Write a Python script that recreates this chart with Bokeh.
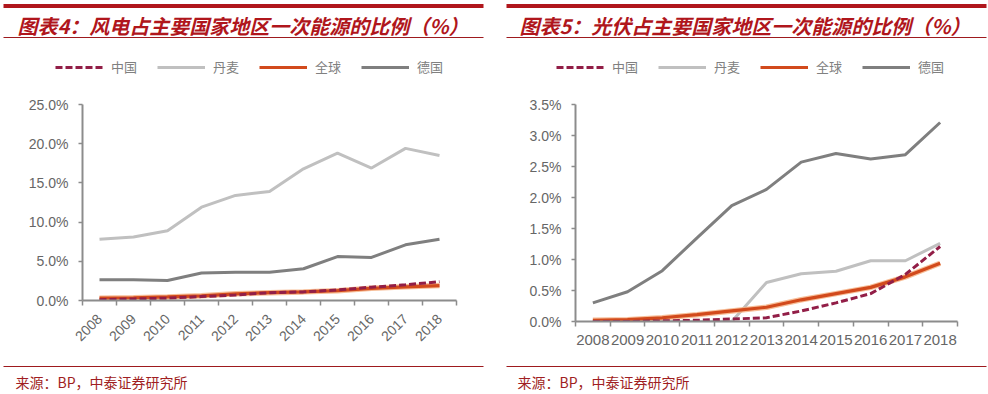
import math
from bokeh.plotting import figure
from bokeh.layouts import row, column
from bokeh.models import (Range1d, FixedTicker, PrintfTickFormatter, Legend, LegendItem)
from bokeh.core.properties import value
from bokeh.embed import file_html
from bokeh.resources import INLINE

# ---------------- data ----------------
years = [2008, 2009, 2010, 2011, 2012, 2013, 2014, 2015, 2016, 2017, 2018]

# wind share of primary energy (%)
wind_china = [0.1, 0.2, 0.3, 0.5, 0.7, 1.0, 1.1, 1.35, 1.7, 2.0, 2.4]
wind_denmark = [7.8, 8.1, 8.9, 11.9, 13.4, 13.9, 16.8, 18.8, 16.9, 19.4, 18.5]
wind_global = [0.3, 0.35, 0.45, 0.6, 0.85, 1.0, 1.1, 1.25, 1.55, 1.75, 1.9]
wind_germany = [2.65, 2.65, 2.55, 3.5, 3.6, 3.6, 4.05, 5.6, 5.5, 7.1, 7.8]

# solar share of primary energy (%)
solar_china = [0.0, 0.0, 0.01, 0.02, 0.04, 0.06, 0.17, 0.3, 0.45, 0.76, 1.21]
solar_denmark = [0.0, 0.0, 0.0, 0.0, 0.0, 0.63, 0.77, 0.81, 0.98, 0.98, 1.26]
solar_global = [0.02, 0.03, 0.06, 0.11, 0.17, 0.23, 0.35, 0.45, 0.55, 0.72, 0.94]
solar_germany = [0.3, 0.48, 0.82, 1.35, 1.87, 2.13, 2.57, 2.71, 2.62, 2.69, 3.21]

series_labels = ["中国", "丹麦", "全球", "德国"]
wind_ticks = [0, 5, 10, 15, 20, 25]
solar_ticks = [0, 0.5, 1.0, 1.5, 2.0, 2.5, 3.0, 3.5]

title_left = "图表4：风电占主要国家地区一次能源的比例（%）"
title_right = "图表5：光伏占主要国家地区一次能源的比例（%）"
source_text = "来源：BP，中泰证券研究所"

# ---------------- style ----------------
C_CHINA = "#921E47"
C_DENMARK = "#C0C0C0"
C_GLOBAL = "#D24A1C"
C_GLOW = "#F5AE7E"
C_GERMANY = "#7F7F7F"
AXIS_C = "#8C8C8C"
TICK_TXT = "#666666"
RED = "#B0161C"
DARK_RED = "#9E1A1E"
CJK = "Noto Sans CJK SC"
COL_W = 494
HEAD_H = 94      # page y 0..94
CHART_H = 262    # page y 94..356
FOOT_H = 38      # page y 356..394
STYLES = [
    dict(line_color=C_CHINA, line_width=3, line_dash="7 3"),
    dict(line_color=C_DENMARK, line_width=3),
    dict(line_color=C_GLOBAL, line_width=3.2),
    dict(line_color=C_GERMANY, line_width=3),
]
NAN = float("nan")


def blank_fig(x0, y0, h):
    p = figure(width=COL_W, height=h,
               x_range=Range1d(x0, x0 + COL_W), y_range=Range1d(y0 + h, y0),
               x_axis_location=None, y_axis_location=None,
               output_backend="svg", toolbar_location=None, min_border=0,
               frame_align=False)
    p.outline_line_color = None
    p.grid.visible = False
    return p


def header(x0, title, title_x, rule_x0, rule_x1, legend_x):
    p = blank_fig(x0, 0, HEAD_H)
    p.quad(left=[rule_x0], right=[rule_x1], top=[3.5], bottom=[7.5],
           fill_color=RED, line_color=None)
    p.quad(left=[rule_x0], right=[rule_x1], top=[36.5], bottom=[37.5],
           fill_color=DARK_RED, line_color=None)
    p.text(x=[title_x], y=[25], text=[title], text_font=value(CJK),
           text_font_size=value("20px"), text_font_style=value("bold italic"),
           text_color=RED, text_baseline="middle", text_align="left")
    # legend keys (same styles as the chart lines, nothing drawn in the frame)
    rs = [p.line(x=[NAN, NAN], y=[NAN, NAN], **st) for st in STYLES]
    legend = Legend(items=[LegendItem(label=lab, renderers=[r])
                           for lab, r in zip(series_labels, rs)],
                    orientation="horizontal",
                    location=(legend_x - x0, HEAD_H - 76),
                    glyph_width=48, glyph_height=16, label_height=16,
                    label_standoff=8, spacing=20, padding=0, margin=0,
                    border_line_color=None, background_fill_alpha=0,
                    label_text_font=CJK, label_text_font_size="13px",
                    label_text_color="#808080")
    p.add_layout(legend, "center")
    return p


def footer(x0, rule_x0, rule_x1, text_x):
    y0 = HEAD_H + CHART_H
    p = blank_fig(x0, y0, FOOT_H)
    p.quad(left=[rule_x0], right=[rule_x1], top=[365.5], bottom=[366.5],
           fill_color=DARK_RED, line_color=None)
    p.text(x=[text_x], y=[381.5], text=[source_text], text_font=value(CJK),
           text_font_size=value("14px"), text_color="#A01E22",
           text_baseline="middle", text_align="left")
    return p


def chart(series, yticks, x0, fl, fr, ft, fb, rotate):
    y0 = HEAD_H
    p = figure(width=COL_W, height=CHART_H,
               x_range=Range1d(years[0] - 0.5, years[-1] + 0.5),
               y_range=Range1d(yticks[0], yticks[-1]),
               output_backend="svg", toolbar_location=None,
               min_border_left=fl - x0, min_border_right=x0 + COL_W - fr,
               min_border_top=ft - y0, min_border_bottom=y0 + CHART_H - fb,
               frame_align=False)
    p.outline_line_color = None
    p.grid.visible = False

    china, denmark, glob, germany = series
    p.line(years, denmark, **STYLES[1])
    p.line(years, germany, **STYLES[3])
    p.line(years, glob, line_color=C_GLOW, line_width=5.5, line_alpha=0.8)
    p.line(years, glob, **STYLES[2])
    p.line(years, china, **STYLES[0])

    for ax in p.axis:
        ax.axis_line_color = AXIS_C
        ax.axis_line_width = 2
        ax.major_label_text_font = "Liberation Sans"
        ax.major_label_text_font_size = "14px"
        ax.major_label_text_color = TICK_TXT

    ya = p.yaxis[0]
    ya.ticker = FixedTicker(ticks=yticks, minor_ticks=[])
    ya.formatter = PrintfTickFormatter(format="%.1f%%")
    ya.major_tick_out = 4
    ya.major_tick_in = 0
    ya.major_tick_line_color = AXIS_C
    ya.major_tick_line_width = 1.5
    ya.minor_tick_line_color = None
    ya.major_label_standoff = 10

    xa = p.xaxis[0]
    xa.ticker = FixedTicker(ticks=years,
                            minor_ticks=[y - 0.5 for y in years] + [years[-1] + 0.5])
    xa.major_label_overrides = {y: str(y) for y in years}
    xa.major_tick_out = 0
    xa.major_tick_in = 0
    xa.minor_tick_out = 5
    xa.minor_tick_in = 0
    xa.minor_tick_line_color = AXIS_C
    xa.minor_tick_line_width = 1.5
    if rotate:
        xa.major_label_orientation = math.pi / 4
        xa.major_label_standoff = 11
    else:
        xa.major_label_text_font_size = "15px"
        xa.major_label_standoff = 8
    return p


left = column(
    header(0, title_left, 17, 3, 483, 55),
    chart((wind_china, wind_denmark, wind_global, wind_germany), wind_ticks,
          0, 82, 456, 104, 300, True),
    footer(0, 3, 483, 15),
)
right = column(
    header(COL_W, title_right, 519, 506, 986, 556),
    chart((solar_china, solar_denmark, solar_global, solar_germany), solar_ticks,
          COL_W, 575, 957, 104, 321, False),
    footer(COL_W, 506, 986, 517),
)

layout = row(left, right)
open("out.html", "w").write(file_html(layout, INLINE))
